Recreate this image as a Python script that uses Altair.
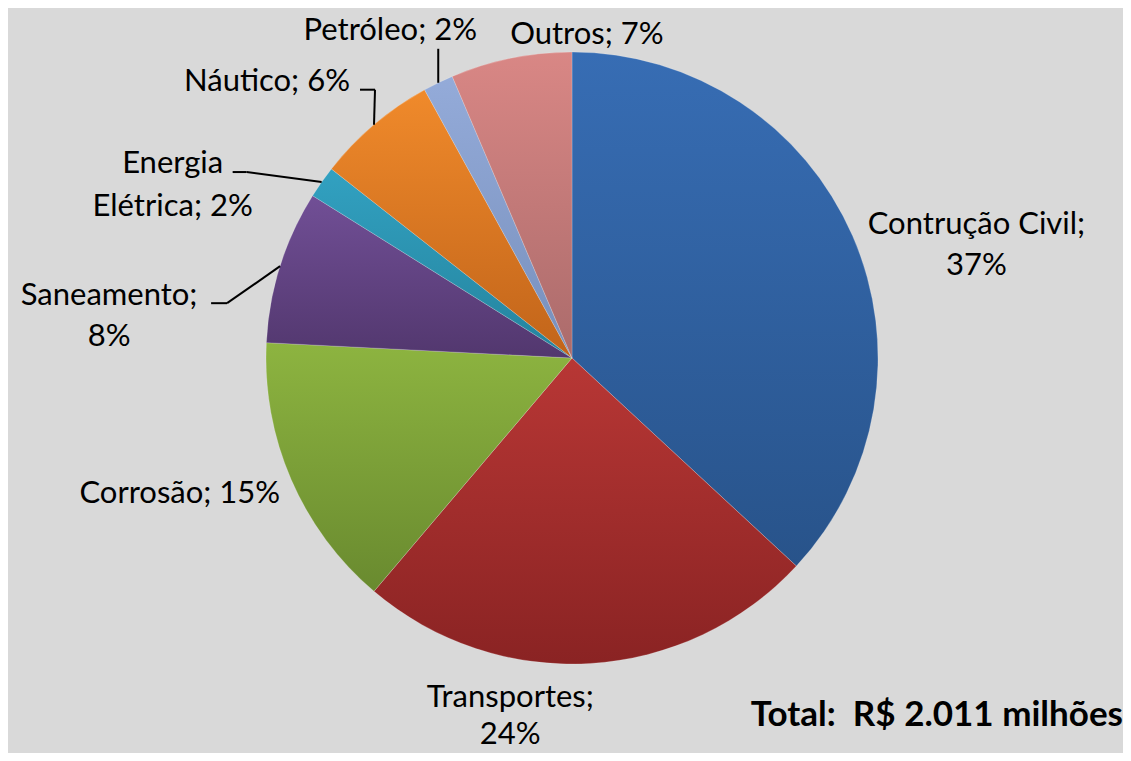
import math
import altair as alt
import pandas as pd

# ---- data ----
categories = ["Contrução Civil", "Transportes", "Corrosão", "Saneamento",
              "Energia Elétrica", "Náutico", "Petróleo", "Outros"]
values = [36.9, 24.3, 14.6, 8.1, 1.7, 6.4, 1.6, 6.4]
label_lines = [["Contrução Civil;", "37%"], ["Transportes;", "24%"], ["Corrosão; 15%"],
               ["Saneamento;", "8%"], ["Energia", "Elétrica; 2%"], ["Náutico; 6%"],
               ["Petróleo; 2%"], ["Outros; 7%"]]
top_colors = ["#376db4", "#b83735", "#8db440", "#714f96", "#32a1c1", "#f08a2b", "#94abd9", "#d98785"]
bottom_colors = ["#28538a", "#8a2323", "#698a2f", "#52376e", "#24839d", "#c1641a", "#778fbc", "#ab6b6b"]
total_text = "Total:\u00a0 R$ 2.011 milhões"

# ---- layout / style ----
W, H = 1115, 745
CX, CY, R = 564, 350, 306
FONT = "Lato"
FS = 31
# label nudges (dx, dy, align, line height) from slice's outer mid point
label_style = {
    "Contrução Civil": (124, -2, "center", 41),
    "Transportes": (-80, 44, "center", 37),
    "Corrosão": (-11, 23, "right", 41),
    "Saneamento": (-171, 39, "center", 41),
    "Energia Elétrica": (-149, -9, "center", 43),
    "Náutico": (-24, -34, "right", 41),
    "Petróleo": (-48, -43, "center", 41),
    "Outros": (76, -14, "center", 41),
}
leader_style = {
    "Saneamento": [(-53, 37), (-69, 37)],
    "Energia Elétrica": [(-75, -10), (-89, -10)],
    "Náutico": [(1, -35), (-14, -35)],
    "Petróleo": [(0, -34)],
}

df = pd.DataFrame({"cat": categories, "value": values})
df["label"] = label_lines
df["end"] = df["value"].cumsum()
df["start"] = df["end"] - df["value"]
df["mid"] = (df["start"] + df["end"]) / 2
total = float(sum(values))

theta_scale = alt.Scale(domain=[0, total], range=[0, 2 * math.pi])

layers = []
for i, c in enumerate(categories):
    grad = alt.LinearGradient(
        gradient="linear", x1=0, y1=0, x2=0, y2=1,
        stops=[alt.GradientStop(color=top_colors[i], offset=0),
               alt.GradientStop(color=bottom_colors[i], offset=1)])
    layers.append(
        alt.Chart(df).transform_filter(alt.datum.cat == c)
        .mark_arc(radius=R, fill=grad, stroke="#ffffff", strokeWidth=0.4, strokeOpacity=0.5)
        .encode(theta=alt.Theta("start:Q", scale=theta_scale),
                theta2="end:Q",
                x=alt.value(CX), y=alt.value(CY))
    )

# leader lines computed from the slice mid angle
rows = []
for _, r in df.iterrows():
    if r["cat"] not in leader_style:
        continue
    a = 2 * math.pi * r["mid"] / total
    ax, ay = CX + R * math.sin(a), CY - R * math.cos(a)
    pts = [(ax, ay)] + [(ax + dx, ay + dy) for dx, dy in leader_style[r["cat"]]]
    for k in range(len(pts) - 1):
        rows.append({"cat": r["cat"], "x": pts[k][0], "y": pts[k][1],
                     "x2": pts[k + 1][0], "y2": pts[k + 1][1]})
leaders = pd.DataFrame(rows)
layers.append(
    alt.Chart(leaders).mark_rule(color="#000000", strokeWidth=2)
    .encode(x=alt.X("x:Q", scale=None, axis=None), y=alt.Y("y:Q", scale=None, axis=None),
            x2="x2:Q", y2="y2:Q")
)

for c in categories:
    dx, dy, al, lh = label_style[c]
    layers.append(
        alt.Chart(df).transform_filter(alt.datum.cat == c)
        .mark_text(font=FONT, fontSize=FS, color="#000000", align=al, baseline="alphabetic",
                   lineHeight=lh, dx=dx, dy=dy)
        .encode(theta=alt.Theta("mid:Q", scale=theta_scale),
                radius=alt.value(R),
                x=alt.value(CX), y=alt.value(CY),
                text="label")
    )

layers.append(
    alt.Chart(pd.DataFrame({"t": [total_text]}))
    .mark_text(font=FONT, fontSize=35, fontWeight="bold", color="#000000",
               align="right", baseline="alphabetic")
    .encode(x=alt.value(W), y=alt.value(718), text="t:N")
)

chart = alt.layer(*layers).properties(
    width=W, height=H, padding=0, autosize=alt.AutoSizeParams(type="none"),
    background="#d9d9d9"
).configure_view(stroke=None)

chart.save("out.html", embed_options={"renderer": "svg", "actions": False})
